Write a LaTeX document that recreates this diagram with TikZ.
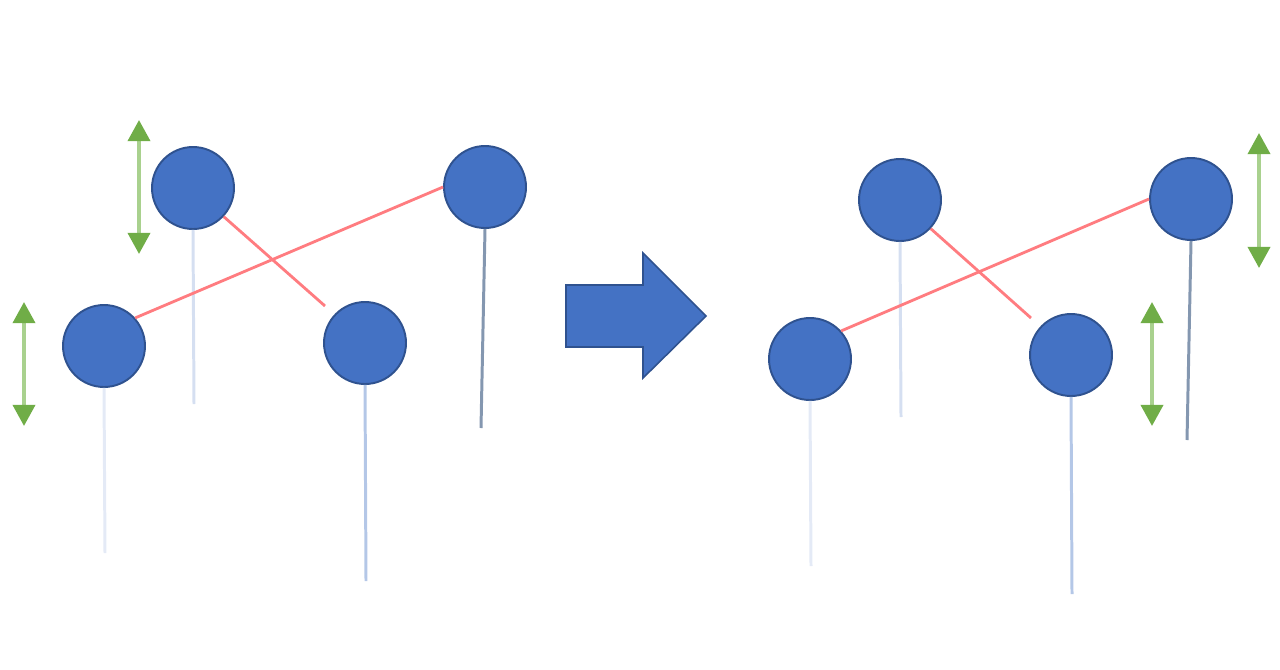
\documentclass[tikz,border=0pt]{standalone}
\usepackage{tikz}
\usetikzlibrary{arrows.meta}
\definecolor{ballblue}{HTML}{4472C4}
\definecolor{balledge}{HTML}{2F528F}
\definecolor{linkred}{HTML}{FF7C80}
\definecolor{shaftgreen}{HTML}{A9D18E}
\definecolor{tipgreen}{HTML}{70AD47}
\definecolor{stemA}{HTML}{D5DFF1}
\definecolor{stemB}{HTML}{E4EAF6}
\definecolor{stemC}{HTML}{B4C7E7}
\definecolor{stemD}{HTML}{8497B0}

\begin{document}
\begin{tikzpicture}[x=0.02cm,y=-0.02cm,
    ball/.style={circle,draw=balledge,fill=ballblue,line width=1.1pt,minimum size=1.64cm,inner sep=0pt},
    link/.style={draw=linkred,line width=1.6pt},
    stem/.style={line width=1.7pt},
    move/.style={draw=shaftgreen,line width=2.2pt,
        {Triangle[width=12.5pt,length=12pt,color=tipgreen]}-{Triangle[width=12.5pt,length=12pt,color=tipgreen]}}]

    \useasboundingbox (0,0) rectangle (1280,669);

    % before
    \node[ball] (a1) at (193,188) {};
    \node[ball] (b1) at (104,346) {};
    \node[ball] (c1) at (365,343) {};
    \node[ball] (d1) at (485,187) {};
    \coordinate (a1end) at (194,404);
    \coordinate (b1end) at (105,553);
    \coordinate (c1end) at (366,581);
    \coordinate (d1end) at (481,428);
    \coordinate (c1near) at (325,306);
    \draw[stem,stemA] (a1.south) -- (a1end);
    \draw[stem,stemB] (b1.south) -- (b1end);
    \draw[stem,stemC] (c1.south) -- (c1end);
    \draw[stem,stemD] (d1.south) -- (d1end);
    \draw[link] (b1.42) -- (d1.west);
    \draw[link] (a1.-43) -- (c1near);
    \coordinate (m1top) at (139,120);
    \coordinate (m1bot) at (139,254);
    \coordinate (m2top) at (24,302);
    \coordinate (m2bot) at (24,426);
    \draw[move] (m1top) -- (m1bot);
    \draw[move] (m2top) -- (m2bot);

    % block arrow
    \draw[fill=ballblue,draw=balledge,line width=0.9pt,line join=miter]
        (566,285) -- (643,285) -- (643,253) -- (706,316) -- (643,378)
        -- (643,347) -- (566,347) -- cycle;

    % after
    \node[ball] (a2) at (900,200) {};
    \node[ball] (b2) at (810,359) {};
    \node[ball] (c2) at (1071,355) {};
    \node[ball] (d2) at (1191,199) {};
    \coordinate (a2end) at (901,417);
    \coordinate (b2end) at (811,566);
    \coordinate (c2end) at (1072,594);
    \coordinate (d2end) at (1187,440);
    \coordinate (c2near) at (1031,318);
    \draw[stem,stemA] (a2.south) -- (a2end);
    \draw[stem,stemB] (b2.south) -- (b2end);
    \draw[stem,stemC] (c2.south) -- (c2end);
    \draw[stem,stemD] (d2.south) -- (d2end);
    \draw[link] (b2.42) -- (d2.west);
    \draw[link] (a2.-43) -- (c2near);
    \coordinate (m3top) at (1259,133);
    \coordinate (m3bot) at (1259,268);
    \coordinate (m4top) at (1152,302);
    \coordinate (m4bot) at (1152,426);
    \draw[move] (m3top) -- (m3bot);
    \draw[move] (m4top) -- (m4bot);

\end{tikzpicture}
\end{document}
